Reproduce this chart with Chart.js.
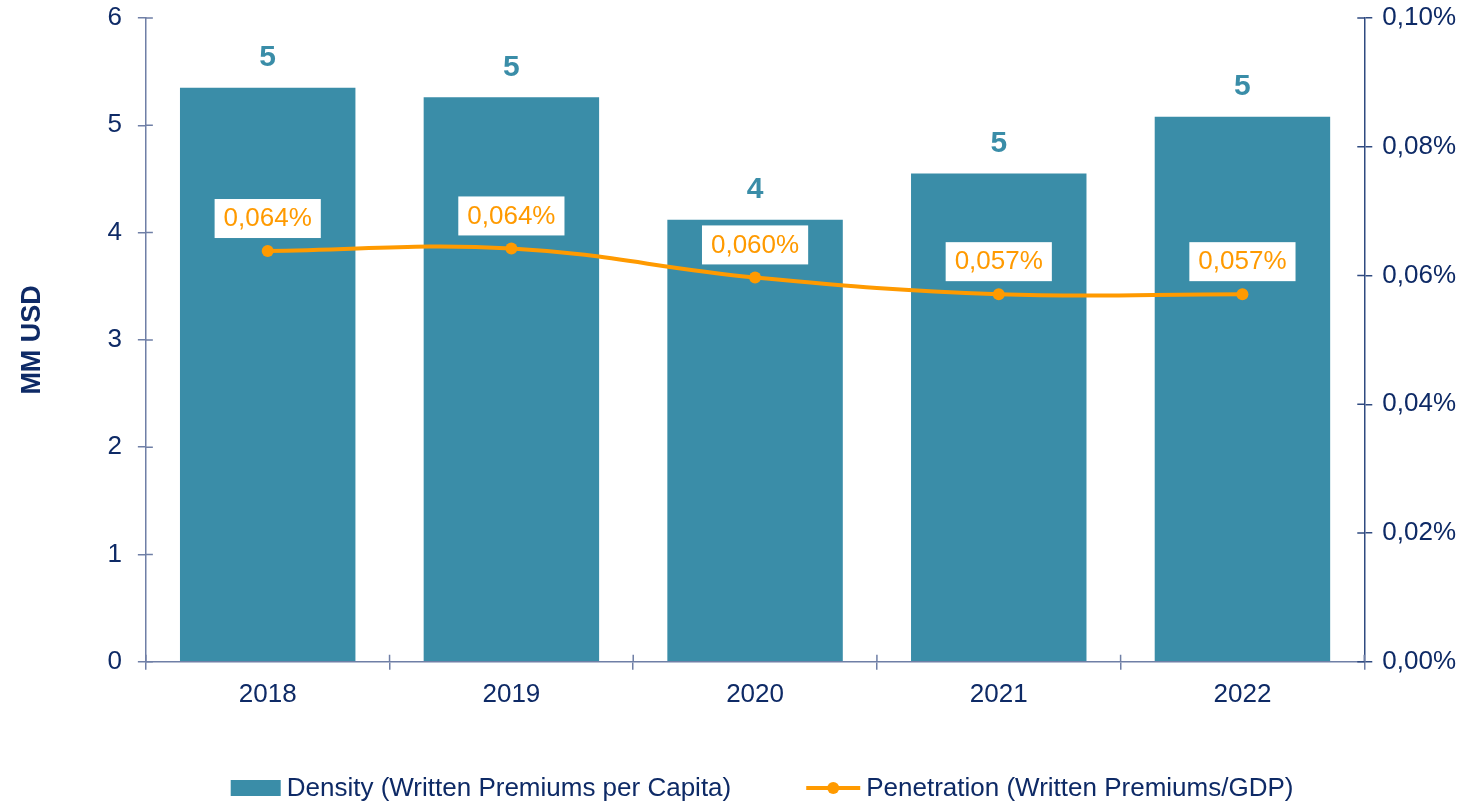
<!DOCTYPE html>
<html>
<head>
<meta charset="utf-8">
<script src="https://cdn.jsdelivr.net/npm/chart.js@4.4.0/dist/chart.umd.min.js"></script>
<style>
  html, body { margin: 0; padding: 0; background: #fff; }
  #wrap { width: 1472px; height: 804px; }
</style>
</head>
<body>
<div id="wrap"><canvas id="plot"></canvas></div>
<script>
// data
var years = ["2018", "2019", "2020", "2021", "2022"];
var density = [5.35, 5.26, 4.12, 4.55, 5.08];          // MM USD
var penetration = [0.0638, 0.0642, 0.0597, 0.0571, 0.0571]; // %
var seriesNames = ["Density (Written Premiums per Capita)", "Penetration (Written Premiums/GDP)"];

var teal = "#3A8DA8";
var orange = "#FF9A00";
var navy = "#0E2A66";
var axisCol = "#6F7FA6";
var axisCol2 = "#2F4A80";
var fontFam = "'Liberation Sans', Arial, sans-serif";

function pctText(v, d) {
  return v.toFixed(d).replace(".", ",") + "%";
}

// value labels, inner tick halves and the legend row
var extrasPlugin = {
  id: "extras",
  afterDatasetsDraw: function(chart) {
    var ctx = chart.ctx;
    ctx.save();
    var bars = chart.getDatasetMeta(0).data;
    ctx.font = "bold 30px " + fontFam;
    ctx.fillStyle = teal;
    ctx.textAlign = "center";
    ctx.textBaseline = "middle";
    for (var i = 0; i < bars.length; i++) {
      ctx.fillText(String(Math.round(density[i])), bars[i].x, bars[i].y - 30);
    }
    var pts = chart.getDatasetMeta(1).data;
    ctx.font = "26px " + fontFam;
    for (var j = 0; j < pts.length; j++) {
      var t = pctText(penetration[j], 3);
      var w = ctx.measureText(t).width + 18;
      var cy = pts[j].y - 33;
      ctx.fillStyle = "#fff";
      ctx.fillRect(pts[j].x - w / 2, cy - 19, w, 39);
      ctx.fillStyle = orange;
      ctx.fillText(t, pts[j].x, cy + 1);
    }
    ctx.restore();
  },
  afterDraw: function(chart) {
    var ctx = chart.ctx;
    var a = chart.chartArea;
    ctx.save();
    ctx.lineWidth = 1.5;
    // inner halves of the tick marks
    var sy = chart.scales.y, sy1 = chart.scales.y1;
    ctx.strokeStyle = axisCol;
    ctx.beginPath();
    sy.ticks.forEach(function(t) {
      var p = sy.getPixelForValue(t.value);
      ctx.moveTo(a.left, p); ctx.lineTo(a.left + 7, p);
    });
    for (var k = 0; k <= years.length; k++) {
      var px = a.left + (a.right - a.left) * k / years.length;
      ctx.moveTo(px, a.bottom); ctx.lineTo(px, a.bottom - 7);
    }
    ctx.stroke();
    ctx.strokeStyle = axisCol2;
    ctx.beginPath();
    sy1.ticks.forEach(function(t) {
      var p = sy1.getPixelForValue(t.value);
      ctx.moveTo(a.right, p); ctx.lineTo(a.right - 7, p);
    });
    ctx.stroke();

    // legend
    ctx.font = "26px " + fontFam;
    ctx.textBaseline = "middle";
    ctx.textAlign = "left";
    var w1 = ctx.measureText(seriesNames[0]).width;
    var w2 = ctx.measureText(seriesNames[1]).width;
    var total = 50 + 6 + w1 + 75 + 54 + 6 + w2;
    var x0 = (a.left + a.right) / 2 + 7 - total / 2;
    var ly = 788;
    ctx.fillStyle = teal;
    ctx.fillRect(x0, ly - 8, 50, 16);
    ctx.fillStyle = navy;
    ctx.fillText(seriesNames[0], x0 + 56, ly + 1);
    var x1 = x0 + 56 + w1 + 75;
    ctx.strokeStyle = orange;
    ctx.lineWidth = 4;
    ctx.beginPath(); ctx.moveTo(x1, ly); ctx.lineTo(x1 + 54, ly); ctx.stroke();
    ctx.fillStyle = orange;
    ctx.beginPath(); ctx.arc(x1 + 27, ly, 6, 0, Math.PI * 2); ctx.fill();
    ctx.fillStyle = navy;
    ctx.fillText(seriesNames[1], x1 + 60, ly + 1);
    ctx.restore();
  }
};

var config = {
  type: "bar",
  data: {
    labels: years,
    datasets: [
      {
        type: "bar",
        label: seriesNames[0],
        data: density,
        backgroundColor: teal,
        yAxisID: "y",
        barPercentage: 0.72,
        categoryPercentage: 1.0,
        order: 2
      },
      {
        type: "line",
        label: seriesNames[1],
        data: penetration,
        borderColor: orange,
        backgroundColor: orange,
        borderWidth: 4,
        pointRadius: 6,
        pointBackgroundColor: orange,
        pointBorderWidth: 0,
        tension: 0.4,
        yAxisID: "y1",
        order: 1
      }
    ]
  },
  options: {
    responsive: true,
    maintainAspectRatio: false,
    animation: false,
    layout: { padding: { left: 16, right: 6, top: 0, bottom: 85 } },
    plugins: {
      tooltip: { enabled: false },
      legend: { display: false }
    },
    scales: {
      x: {
        grid: { display: true, drawOnChartArea: false, offset: true, color: axisCol, tickLength: 8, lineWidth: 1.5 },
        border: { color: axisCol, width: 1.5 },
        ticks: { color: navy, font: { family: fontFam, size: 26 }, padding: 9 }
      },
      y: {
        position: "left",
        min: 0, max: 6,
        ticks: { stepSize: 1, color: navy, font: { family: fontFam, size: 26, lineHeight: 0.15 }, padding: 16 },
        grid: { drawOnChartArea: false, color: axisCol, tickLength: 8, lineWidth: 1.5 },
        border: { color: axisCol, width: 1.5 },
        title: {
          display: true, text: "MM USD", color: navy,
          font: { family: fontFam, size: 27, weight: "bold" }, padding: { top: 0, bottom: 43 }
        }
      },
      y1: {
        position: "right",
        min: 0, max: 0.1,
        ticks: {
          stepSize: 0.02, color: navy, font: { family: fontFam, size: 26, lineHeight: 0.15 }, padding: 10,
          callback: function(v) { return pctText(v, 2); }
        },
        grid: { drawOnChartArea: false, color: axisCol2, tickLength: 8, lineWidth: 1.5 },
        border: { color: axisCol2, width: 1.5 }
      }
    }
  },
  plugins: [extrasPlugin]
};

var chart = new Chart(document.getElementById("plot").getContext("2d"), config);
</script>
</body>
</html>
